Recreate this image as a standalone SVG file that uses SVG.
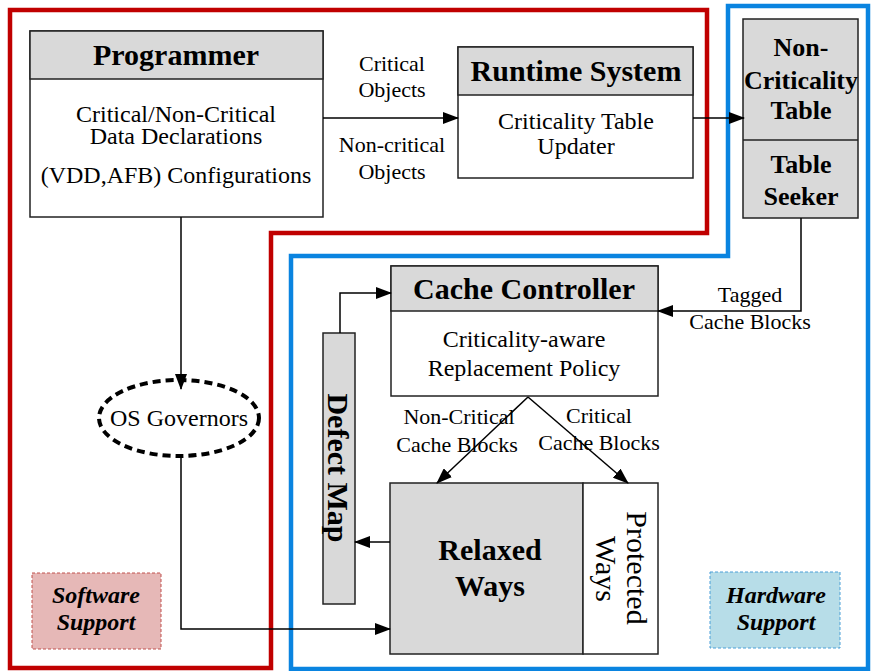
<svg xmlns="http://www.w3.org/2000/svg" width="875" height="671" viewBox="0 0 875 671">
<defs>
<marker id="ah" markerUnits="userSpaceOnUse" markerWidth="16" markerHeight="12" refX="15" refY="6" orient="auto">
<path d="M0,0 L16,6 L0,12 Z" fill="#000"/>
</marker>
<style>
text{font-family:"Liberation Serif","Times New Roman",serif;text-anchor:middle;fill:#000}
.box{fill:#fff;stroke:#222;stroke-width:1.5}
.hd{fill:#d9d9d9;stroke:#222;stroke-width:1.5}
.t1{font-size:30px;font-weight:bold}
.t3{font-size:26px;font-weight:bold}
.b{font-size:24px}
.lab{font-size:22px}
.rot{font-size:30px}
.con{fill:none;stroke:#000;stroke-width:1.5}
.tag{font-size:24px;font-weight:bold;font-style:italic}
</style>
</defs>
<rect width="875" height="671" fill="#fff"/>
<g id="regions">
<path d="M10,10 H707 V233 H271 V668 H10 Z" fill="none" stroke="#c00000" stroke-width="4.5"/>
<path d="M291,256 H728 V6 H868 V669 H291 Z" fill="none" stroke="#0a84e0" stroke-width="4.5"/>
</g>
<g id="programmer">
<rect class="box" x="30" y="31" width="293" height="186"/>
<rect class="hd" x="30" y="31" width="293" height="48"/>
<text class="t1" x="176" y="65">Programmer</text>
<text class="b" x="176" y="122">Critical/Non-Critical</text>
<text class="b" x="176" y="144">Data Declarations</text>
<text class="b" x="176" y="183">(VDD,AFB) Configurations</text>
</g>
<g id="runtime">
<rect class="box" x="458" y="47" width="235" height="131"/>
<rect class="hd" x="458" y="47" width="235" height="48"/>
<text class="t1" x="576" y="81">Runtime System</text>
<text class="b" x="576" y="129">Criticality Table</text>
<text class="b" x="576" y="154">Updater</text>
</g>
<g id="table">
<rect class="hd" x="743" y="19" width="115" height="199"/>
<line x1="743" y1="140" x2="858" y2="140" stroke="#222" stroke-width="1.5"/>
<text class="t3" x="801" y="56">Non-</text>
<text class="t3" x="801" y="89">Criticality</text>
<text class="t3" x="801" y="119">Table</text>
<text class="t3" x="801" y="173">Table</text>
<text class="t3" x="801" y="205">Seeker</text>
</g>
<g id="cachecontroller">
<rect class="box" x="391" y="266" width="267" height="130"/>
<rect class="hd" x="391" y="266" width="267" height="45"/>
<text class="t1" x="524" y="299">Cache Controller</text>
<text class="b" x="524" y="347">Criticality-aware</text>
<text class="b" x="524" y="376">Replacement Policy</text>
</g>
<g id="relaxed">
<rect class="hd" x="390" y="483" width="193" height="171"/>
<text class="t1" x="490" y="560">Relaxed</text>
<text class="t1" x="490" y="596">Ways</text>
</g>
<g id="protected">
<rect class="box" x="583" y="483" width="75" height="171"/>
<text class="rot" transform="translate(627,568) rotate(90)">Protected</text>
<text class="rot" transform="translate(596,569) rotate(90)">Ways</text>
</g>
<g id="defectmap">
<rect class="hd" x="323" y="333" width="32" height="271"/>
<text class="t1" transform="translate(328,468) rotate(90)">Defect Map</text>
</g>
<g id="osgov">
<ellipse cx="179" cy="418" rx="80" ry="38" fill="#fff" stroke="#000" stroke-width="4" stroke-dasharray="8,5"/>
<text class="b" x="179" y="426">OS Governors</text>
</g>
<g id="swsupport">
<rect x="32" y="573" width="129" height="76" fill="#e6b8b7" stroke="#c0504d" stroke-width="1" stroke-dasharray="3,2"/>
<text class="tag" x="96" y="603">Software</text>
<text class="tag" x="96" y="630">Support</text>
</g>
<g id="hwsupport">
<rect x="710" y="572" width="130" height="76" fill="#b7dde8" stroke="#4a9fd8" stroke-width="1" stroke-dasharray="3,2"/>
<text class="tag" x="776" y="603">Hardware</text>
<text class="tag" x="776" y="630">Support</text>
</g>
<g id="connectors">
<line class="con" x1="323" y1="118" x2="458" y2="118" marker-end="url(#ah)"/>
<line class="con" x1="693" y1="118" x2="744" y2="118" marker-end="url(#ah)"/>
<polyline class="con" points="801,218 801,311 658,311" marker-end="url(#ah)"/>
<line class="con" x1="528" y1="397" x2="437" y2="483" marker-end="url(#ah)"/>
<line class="con" x1="528" y1="397" x2="628" y2="483" marker-end="url(#ah)"/>
<polyline class="con" points="340,333 340,293 391,293" marker-end="url(#ah)"/>
<line class="con" x1="390" y1="542" x2="355" y2="542" marker-end="url(#ah)"/>
<line class="con" x1="181" y1="217" x2="181" y2="389" marker-end="url(#ah)"/>
<polyline class="con" points="181,457 181,629 390,629" marker-end="url(#ah)"/>
<text class="lab" x="392" y="71">Critical</text>
<text class="lab" x="392" y="97">Objects</text>
<text class="lab" x="392" y="152">Non-critical</text>
<text class="lab" x="392" y="179">Objects</text>
<text class="lab" x="750" y="302">Tagged</text>
<text class="lab" x="750" y="329">Cache Blocks</text>
<text class="lab" x="459" y="424">Non-Critical</text>
<text class="lab" x="457" y="452">Cache Blocks</text>
<text class="lab" x="599" y="423">Critical</text>
<text class="lab" x="599" y="450">Cache Blocks</text>
</g>
</svg>
